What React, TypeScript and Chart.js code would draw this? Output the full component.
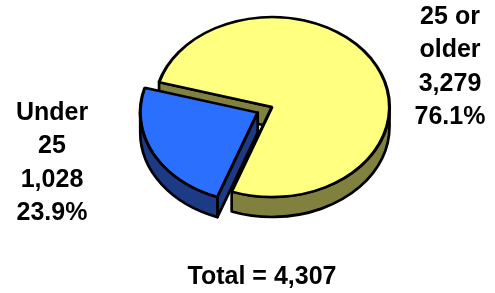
import React, { useEffect, useRef } from 'react';
import { Chart, registerables } from 'chart.js';

Chart.register(...registerables);

// ---- data ----
const categories = ['25 or older', 'Under 25'];
const values = [3279, 1028];
const labelLines = [['25 or', 'older'], ['Under', '25']];
const totalLabel = 'Total = ';

// ---- style ----
const topColors = ['#FFFF80', '#2B6FFF'];
const sideColors = ['#80803F', '#1C3A85'];
const explode = [0, 64];
const TILT = 0.766;
const DEPTH = 20;
const OFFSET_DIV = 4;
const FONT = 'bold 25px "Liberation Sans", Arial, sans-serif';

const fmt = (n: number) => n.toLocaleString('en-US');
const total = values.reduce((a, b) => a + b, 0);
const pct = (n: number) => ((n / total) * 100).toFixed(1) + '%';

function drawWalls(chart: any, exploded: boolean) {
  const ctx = chart.ctx as CanvasRenderingContext2D;
  const meta = chart.getDatasetMeta(0);
  meta.data.forEach((arc: any, i: number) => {
    const off = (arc.options.offset || 0) / OFFSET_DIV;
    if ((off > 0) !== exploded) return;
    const { x, y, startAngle, endAngle, outerRadius } = arc.getProps(
      ['x', 'y', 'startAngle', 'endAngle', 'outerRadius'],
      true
    );
    const mid = (startAngle + endAngle) / 2;
    const cx = x + Math.cos(mid) * off;
    const cy = y + Math.sin(mid) * off * TILT;
    const r = outerRadius;
    const ry = r * TILT;
    ctx.save();
    ctx.fillStyle = sideColors[i];
    ctx.strokeStyle = '#000';
    ctx.lineWidth = 2.7;
    ctx.lineJoin = 'round';
    const radial = (t: number) => {
      const px = cx + r * Math.cos(t);
      const py = cy + ry * Math.sin(t);
      ctx.beginPath();
      ctx.moveTo(cx, cy);
      ctx.lineTo(px, py);
      ctx.lineTo(px, py + DEPTH);
      ctx.lineTo(cx, cy + DEPTH);
      ctx.closePath();
      ctx.fill();
      ctx.stroke();
    };
    if (Math.cos(startAngle) < -0.001) radial(startAngle);
    if (Math.cos(endAngle) > 0.001) radial(endAngle);
    const TAU = Math.PI * 2;
    for (let k = -2; k <= 3; k++) {
      const lo = Math.max(startAngle, k * TAU);
      const hi = Math.min(endAngle, k * TAU + Math.PI);
      if (hi > lo) {
        ctx.beginPath();
        ctx.ellipse(cx, cy, r, ry, 0, lo, hi, false);
        ctx.ellipse(cx, cy + DEPTH, r, ry, 0, hi, lo, true);
        ctx.closePath();
        ctx.fill();
        ctx.stroke();
      }
    }
    ctx.restore();
  });
}

const labelAnchors = [
  { x: 450, y: 17 },
  { x: 52, y: 113 },
];
const LINE_H = 33.5;

function drawLabels(chart: any) {
  const ctx = chart.ctx as CanvasRenderingContext2D;
  ctx.save();
  ctx.font = FONT;
  ctx.fillStyle = '#000';
  ctx.textAlign = 'center';
  ctx.textBaseline = 'middle';
  categories.forEach((_, i) => {
    const lines = [...labelLines[i], fmt(values[i]), pct(values[i])];
    lines.forEach((s, j) => {
      ctx.fillText(s, labelAnchors[i].x, labelAnchors[i].y + j * LINE_H);
    });
  });
  ctx.fillText(totalLabel + fmt(total), 262, 277);
  ctx.restore();
}

const pie3d = {
  id: 'pie3d',
  beforeDatasetsDraw(chart: any) {
    drawWalls(chart, false);
    const el = chart.getDatasetMeta(0).data[0];
    const ctx = chart.ctx;
    ctx.save();
    ctx.translate(0, el.y);
    ctx.scale(1, TILT);
    ctx.translate(0, -el.y);
  },
  afterDatasetsDraw(chart: any) {
    chart.ctx.restore();
    drawWalls(chart, true);
    drawLabels(chart);
  },
};

export default function App() {
  const ref = useRef<HTMLCanvasElement>(null);
  useEffect(() => {
    if (!ref.current) return;
    const chart = new Chart(ref.current, {
      type: 'pie',
      data: {
        labels: categories,
        datasets: [
          {
            data: values,
            backgroundColor: topColors,
            borderColor: '#000',
            borderWidth: 3.2,
            offset: explode,
            radius: 117.5,
          } as any,
        ],
      },
      options: {
        animation: false,
        responsive: false,
        rotation: 286,
        layout: { padding: { left: 49, right: 0, top: 0, bottom: 79 } },
        plugins: {
          legend: { display: false },
          tooltip: { enabled: false },
        },
        events: [],
      } as any,
      plugins: [pie3d],
    });
    return () => chart.destroy();
  }, []);
  return (
    <div style={{ position: 'absolute', left: 0, top: 0, width: 495, height: 293, background: '#fff' }}>
      <canvas ref={ref} width={495} height={293} style={{ display: 'block' }} />
    </div>
  );
}
